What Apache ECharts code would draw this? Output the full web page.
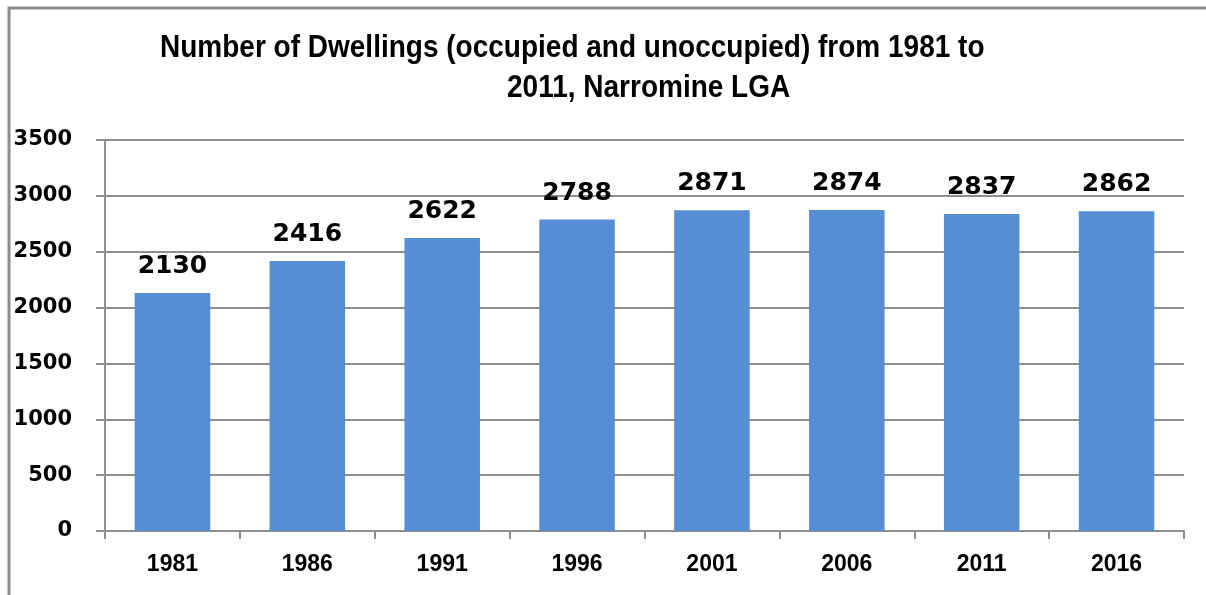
<!DOCTYPE html>
<html>
<head>
<meta charset="utf-8">
<script src="https://cdn.jsdelivr.net/npm/echarts@6/dist/echarts.min.js"></script>
<style>
  html, body { margin: 0; padding: 0; background: #fff; }
  #main { width: 1206px; height: 595px; }
</style>
</head>
<body>
<div id="main"></div>
<script>
const years = ["1981", "1986", "1991", "1996", "2001", "2006", "2011", "2016"];
const dwellings = [2130, 2416, 2622, 2788, 2871, 2874, 2837, 2862];
const yTicks = { min: 0, max: 3500, interval: 500 };
const titleLines = ["Number of Dwellings (occupied and unoccupied) from 1981 to", "2011, Narromine LGA"];

const chart = echarts.init(document.getElementById("main"));
const gray = "#8e8e8e";
const titleFont = "bold 32px 'Liberation Sans'";

chart.setOption({
  animation: false,
  graphic: [
    {
      type: "polyline",
      shape: { points: [[9, 600], [9, 8], [1210, 8]] },
      style: { fill: null, stroke: gray, lineWidth: 3 }
    },
    {
      type: "text",
      x: 160,
      y: 32,
      scaleX: 0.875,
      style: { text: titleLines[0], font: titleFont, fill: "#000", textVerticalAlign: "top" }
    },
    {
      type: "text",
      x: 507,
      y: 72,
      scaleX: 0.875,
      style: { text: titleLines[1], font: titleFont, fill: "#000", textVerticalAlign: "top" }
    }
  ],
  grid: { left: 105, right: 22, top: 140, bottom: 64 },
  xAxis: {
    type: "category",
    data: years,
    axisLine: { lineStyle: { color: gray, width: 2 } },
    axisTick: { show: true, length: 8, lineStyle: { color: gray, width: 2 } },
    axisLabel: {
      margin: 22,
      fontFamily: "Liberation Sans",
      fontWeight: "bold",
      fontSize: 23,
      color: "#000"
    }
  },
  yAxis: {
    type: "value",
    min: yTicks.min,
    max: yTicks.max,
    interval: yTicks.interval,
    axisLine: { show: true, lineStyle: { color: gray, width: 2 } },
    axisTick: { show: true, length: 9, lineStyle: { color: gray, width: 2 } },
    splitLine: { lineStyle: { color: gray, width: 2 } },
    axisLabel: {
      margin: 33,
      formatter: (v) => String(v),
      fontFamily: "DejaVu Sans",
      fontWeight: "bold",
      fontSize: 21,
      color: "#000"
    }
  },
  series: [
    {
      type: "bar",
      data: dwellings,
      barWidth: "56%",
      itemStyle: { color: "#558ed5" },
      label: {
        show: true,
        position: "top",
        distance: 14,
        fontFamily: "DejaVu Sans",
        fontWeight: "bold",
        fontSize: 25,
        color: "#000"
      }
    }
  ]
});
</script>
</body>
</html>
